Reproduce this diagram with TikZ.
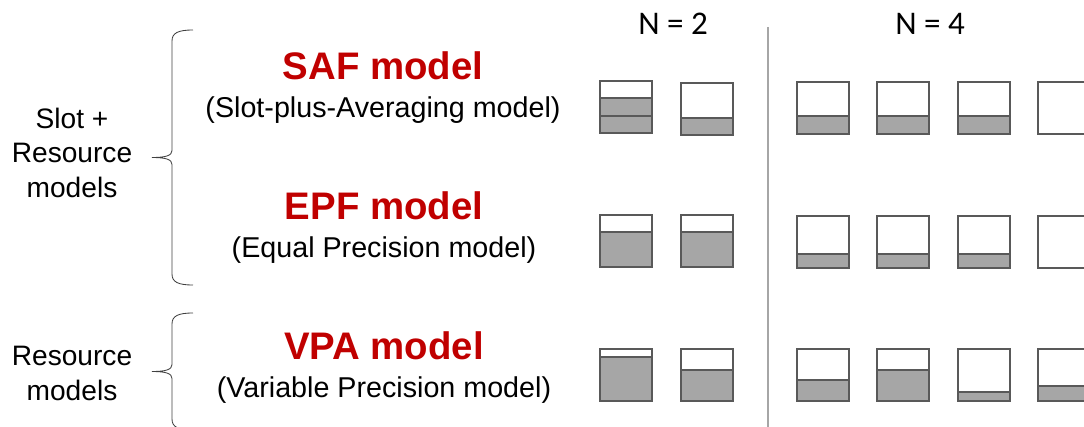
\documentclass[tikz,border=0pt]{standalone}
\usepackage{fontspec}
\setmainfont{Liberation Sans}
\newfontfamily\calibriFont{Carlito}
\definecolor{titleRed}{HTML}{C00000}
\definecolor{edgeGray}{HTML}{595959}
\definecolor{fillGray}{HTML}{A6A6A6}
\definecolor{braceGray}{HTML}{404040}
\newcommand{\memoryBox}[3]{%
  \draw[fillStyle] (#1,#2+\side-#3) rectangle (#1+\side,#2+\side);
  \draw[boxStyle] (#1,#2) rectangle (#1+\side,#2+\side);
}
\newcommand{\modelBrace}[2]{%
  \pgfmathsetmacro{\mid}{(#1+#2)/2}
  \draw[braceStyle] (193,#1) .. controls (178,#1) and (172,#1+3) .. (172,#1+11)
    -- (172,\mid-7) .. controls (172,\mid-2) and (166,\mid) .. (152,\mid)
    .. controls (166,\mid) and (172,\mid+2) .. (172,\mid+7)
    -- (172,#2-11) .. controls (172,#2-3) and (178,#2) .. (193,#2);
}

\begin{document}
\begin{tikzpicture}[%
  x=0.025cm, y=-0.025cm,%
  boxStyle/.style={draw=edgeGray, line width=0.9pt},%
  fillStyle/.style={fill=fillGray, draw=edgeGray, line width=0.9pt},%
  braceStyle/.style={draw=braceGray, line width=0.6pt},%
  sepStyle/.style={draw=fillGray, line width=1.3pt},%
  titleStyle/.style={anchor=base, text=titleRed, font=\fontsize{27.3}{31}\selectfont\bfseries},%
  subStyle/.style={anchor=base, font=\fontsize{20.4}{24}\selectfont},%
  groupStyle/.style={anchor=base, align=center, font=\fontsize{20}{24.5}\selectfont},%
  countStyle/.style={anchor=base, font=\calibriFont\fontsize{23.5}{28}\selectfont}%
]
%
%
\pgfmathsetmacro{\side}{52}  % Side of each memory box.
\useasboundingbox (0,0) rectangle (1084,427);
%
% Group labels and braces.
\node[groupStyle] (slotResource) at (72,197) {Slot +\\Resource\\models};
\node[groupStyle] (resource) at (72,400) {Resource\\models};
\modelBrace{30}{285}
\modelBrace{313}{430}
%
% Model names.
\node[titleStyle] (safTitle) at (383,79) {SAF model};
\node[subStyle] (safSub) at (383,117) {(Slot-plus-Averaging model)};
\node[titleStyle] (epfTitle) at (384,219) {EPF model};
\node[subStyle] (epfSub) at (384,257) {(Equal Precision model)};
\node[titleStyle] (vpaTitle) at (384,359) {VPA model};
\node[subStyle] (vpaSub) at (384,397) {(Variable Precision model)};
%
% Set sizes and separator.
\node[countStyle] (twoItems) at (673,35) {N = 2};
\node[countStyle] (fourItems) at (930,35) {N = 4};
\draw[sepStyle] (768,27) -- (768,427);
%
% SAF row.
\memoryBox{600}{81}{35}
\draw[boxStyle] (600,116) -- (652,116);
\memoryBox{681}{83}{17}
\foreach \x/\lvl in {797/18, 877/18, 958/18, 1038/0} {\memoryBox{\x}{82}{\lvl}}
%
% EPF row.
\foreach \x in {600, 681} {\memoryBox{\x}{215}{35}}
\foreach \x/\lvl in {797/14, 877/14, 958/14, 1038/0} {\memoryBox{\x}{216}{\lvl}}
%
% VPA row.
\memoryBox{600}{349}{44}
\memoryBox{681}{349}{31}
\foreach \x/\lvl in {797/21, 877/31, 958/9, 1038/15} {\memoryBox{\x}{349}{\lvl}}
\end{tikzpicture}
\end{document}
